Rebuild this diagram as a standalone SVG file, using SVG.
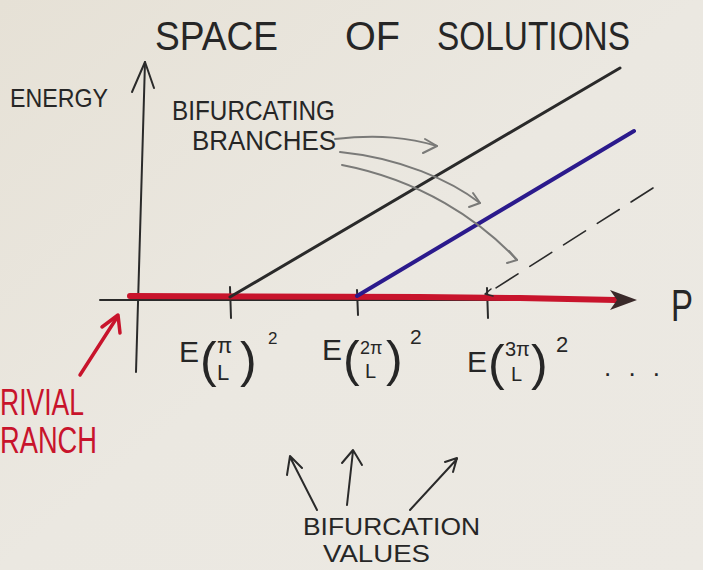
<svg xmlns="http://www.w3.org/2000/svg" width="703" height="570" viewBox="0 0 703 570">
<defs>
<linearGradient id="paper" x1="0" y1="0" x2="1" y2="1">
<stop offset="0" stop-color="#e6e1d6"/>
<stop offset="0.5" stop-color="#ebe8e1"/>
<stop offset="1" stop-color="#ece9e3"/>
</linearGradient>
<style>
text{font-family:"Liberation Sans","DejaVu Sans",sans-serif;fill:#262626;}
.red{fill:#c8142c;}
.ink{stroke:#2a2a2a;fill:none;stroke-linecap:round;stroke-linejoin:round;}
.gray{stroke:#7a7a78;fill:none;stroke-width:2;stroke-linecap:round;stroke-linejoin:round;}
</style>
</defs>
<rect width="703" height="570" fill="url(#paper)"/>

<g id="connectors">
  <!-- vertical axis -->
  <path class="ink" stroke-width="2" d="M136,372 L145,62"/>
  <path class="ink" stroke-width="2" d="M132,92 L145,62 L154,88"/>
  <!-- horizontal axis -->
  <path class="ink" stroke-width="2" d="M100,300 L630,300"/>
  <path class="ink" stroke-width="2" d="M230,287 L231,318 M357,290 L358,315 M487,288 L488,318"/>
  <!-- trivial branch (red) -->
  <path d="M130,296 L420,297 L520,298 L616,300" stroke="#c8142c" stroke-width="6" fill="none" stroke-linecap="round"/>
  <polygon points="637,300 610,290 617,300 610,310" fill="#3a2a2a"/>
  <!-- bifurcating branches -->
  <path class="ink" stroke="#303030" stroke-width="3" d="M230,297 L620,68"/>
  <path d="M357,296 L634,131" stroke="#2b1a8c" stroke-width="4" fill="none" stroke-linecap="round"/>
  <path class="ink" stroke-width="1.6" stroke-dasharray="26,14" d="M653,188 L488,293"/>
  <path class="ink" stroke-width="1.5" d="M491,289 L485,294 L493,296"/>
  <!-- gray pointers from BRANCHES -->
  <path class="gray" d="M335,139 C380,134 410,138 437,146"/>
  <path class="gray" d="M425,139 L437,146 L423,153"/>
  <path class="gray" d="M340,152 C400,158 450,180 480,203"/>
  <path class="gray" d="M473,193 L480,203 L469,207"/>
  <path class="gray" d="M342,165 C420,180 480,220 517,260"/>
  <path class="gray" d="M509,251 L517,260 L507,263"/>
  <!-- red pointer to trivial branch -->
  <path d="M80,375 L116,319" stroke="#c8142c" stroke-width="3.5" fill="none" stroke-linecap="round"/>
  <path d="M102,327 L118,315 L120,333" stroke="#c8142c" stroke-width="3.5" fill="none" stroke-linecap="round" stroke-linejoin="round"/>
  <!-- bifurcation value pointers -->
  <path class="ink" stroke-width="2" d="M317,510 L290,457 M287,475 L290,456 L302,468"/>
  <path class="ink" stroke-width="2" d="M347,505 L353,451 M342,463 L353,450 L362,465"/>
  <path class="ink" stroke-width="2" d="M410,510 L457,459 M445,462 L457,458 L453,472"/>
</g>

<g id="title"><text x="155" y="50" font-size="40" textLength="123" lengthAdjust="spacingAndGlyphs">SPACE</text>
<text x="345" y="50" font-size="40" textLength="55" lengthAdjust="spacingAndGlyphs">OF</text>
<text x="437" y="50" font-size="40" textLength="193" lengthAdjust="spacingAndGlyphs">SOLUTIONS</text></g>

<g id="energy-label"><text x="10" y="107" font-size="26" textLength="98" lengthAdjust="spacingAndGlyphs">ENERGY</text></g>
<g id="p-label"><text x="671" y="321" font-size="44" textLength="22" lengthAdjust="spacingAndGlyphs">P</text></g>

<g id="bifurcating-branches">
<text x="172" y="120" font-size="28" textLength="163" lengthAdjust="spacingAndGlyphs">BIFURCATING</text>
<text x="192" y="150" font-size="28" textLength="144" lengthAdjust="spacingAndGlyphs">BRANCHES</text>
</g>

<g id="trivial-branch">
<text class="red" x="0" y="415" font-size="36" textLength="84" lengthAdjust="spacingAndGlyphs">RIVIAL</text>
<text class="red" x="0" y="453" font-size="36" textLength="97" lengthAdjust="spacingAndGlyphs">RANCH</text>
</g>

<g id="value-1">
<text font-size="30"><tspan x="179" y="362">E</tspan><tspan x="200" y="377" font-size="50">(</tspan><tspan x="217" y="353" font-size="22">π</tspan><tspan x="217" y="380" font-size="22">L</tspan><tspan x="240" y="377" font-size="50">)</tspan><tspan x="268" y="344" font-size="17">2</tspan></text>
</g>

<g id="value-2">
<text font-size="30"><tspan x="322" y="360">E</tspan><tspan x="343" y="376" font-size="50">(</tspan><tspan x="360" y="354" font-size="18">2π</tspan><tspan x="365" y="378" font-size="20">L</tspan><tspan x="386" y="376" font-size="50">)</tspan><tspan x="410" y="344" font-size="21">2</tspan></text>
</g>

<g id="value-3">
<text font-size="30"><tspan x="467" y="372">E</tspan><tspan x="488" y="380" font-size="50">(</tspan><tspan x="505" y="356" font-size="20">3π</tspan><tspan x="511" y="381" font-size="20">L</tspan><tspan x="531" y="380" font-size="50">)</tspan><tspan x="556" y="352" font-size="22">2</tspan></text>
</g>

<g id="ellipsis"><text x="604" y="376" font-size="26" textLength="56" lengthAdjust="spacing">...</text></g>

<g id="bifurcation-values">
<text x="303" y="535" font-size="24" textLength="177" lengthAdjust="spacingAndGlyphs">BIFURCATION</text>
<text x="323" y="562" font-size="24" textLength="107" lengthAdjust="spacingAndGlyphs">VALUES</text>
</g>
</svg>
